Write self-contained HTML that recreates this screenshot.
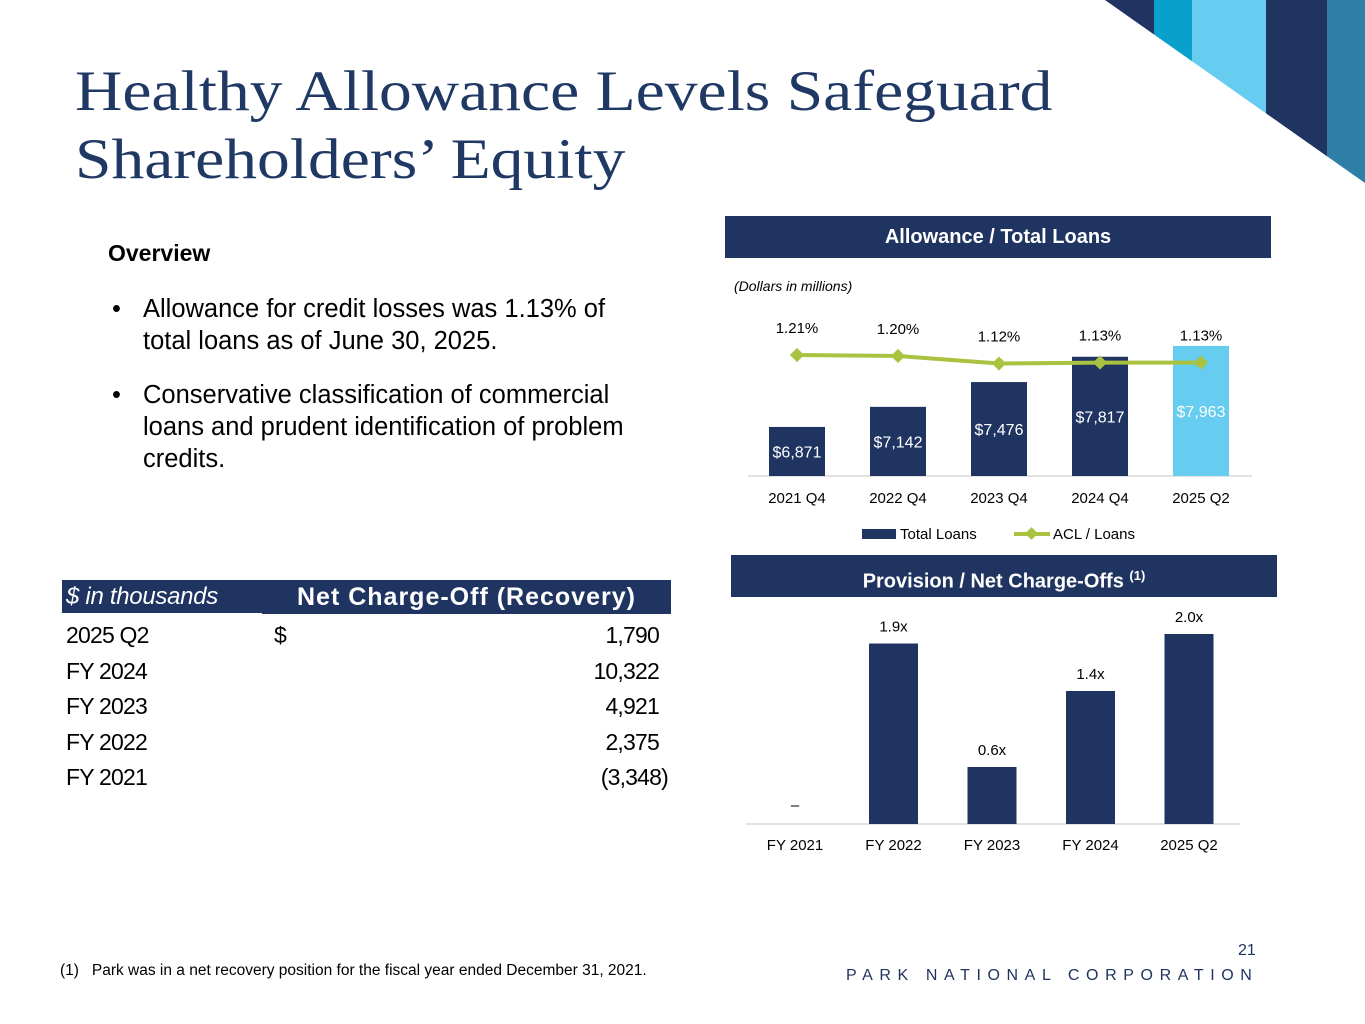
<!DOCTYPE html>
<html><head><meta charset="utf-8"><style>
body{margin:0;width:1365px;height:1024px;position:relative;overflow:hidden;background:#fff;font-family:"Liberation Sans",Arial,sans-serif;}
.abs{position:absolute;}
.title{left:75px;top:58px;font-family:"Liberation Serif",serif;font-size:57px;line-height:68px;color:#1f3864;transform:scaleX(1.15);transform-origin:left top;white-space:nowrap;}
.hdr{background:#1f3461;color:#fff;font-weight:bold;font-size:20px;text-align:center;}
.row{left:66px;width:602px;height:35px;font-size:23px;letter-spacing:-0.8px;color:#000;}
.row span{position:absolute;}
</style></head><body>
<svg class="abs" style="left:0;top:0" width="1365" height="200">
<defs><clipPath id="cp"><polygon points="1105,0 1365,0 1365,183"/></clipPath></defs>
<g clip-path="url(#cp)">
<rect x="1100" y="0" width="54" height="200" fill="#1f3461"/>
<rect x="1154" y="0" width="38" height="200" fill="#0aa0cc"/>
<rect x="1192" y="0" width="74" height="200" fill="#66ccf0"/>
<rect x="1266" y="0" width="61" height="200" fill="#1f3461"/>
<rect x="1327" y="0" width="40" height="200" fill="#2e7fa6"/>
</g></svg>
<div class="abs title">Healthy Allowance Levels Safeguard<br>Shareholders’ Equity</div>
<div class="abs" style="left:108px;top:240px;font-size:23px;font-weight:bold">Overview</div>
<div class="abs" style="left:112px;top:293px;font-size:25.5px;line-height:32px;width:600px"><span style="position:absolute;left:0">•</span><div style="margin-left:31px;width:505px">Allowance for credit losses was 1.13% of total loans as of June 30, 2025.</div></div>
<div class="abs" style="left:112px;top:379px;font-size:25.5px;line-height:32px;width:600px"><span style="position:absolute;left:0">•</span><div style="margin-left:31px;width:500px;white-space:nowrap">Conservative classification of commercial<br>loans and prudent identification of problem<br>credits.</div></div>

<div class="abs" style="left:62px;top:580px;width:609px;height:34px;background:#1f3461">
<span class="abs" style="left:4px;top:3px;color:#fff;font-style:italic;font-size:24px;letter-spacing:-0.3px">$ in thousands</span>
<span class="abs" style="left:235px;top:3px;color:#fff;font-weight:bold;font-size:25px;letter-spacing:1px">Net Charge-Off (Recovery)</span></div>
<div class="abs" style="left:62px;top:613px;width:200px;height:2px;background:#fff"></div>
<div id="tbl"></div>

<div class="abs hdr" style="left:725px;top:216px;width:546px;height:42px;line-height:42px">Allowance / Total Loans</div>
<div class="abs hdr" style="left:731px;top:555px;width:546px;height:42px;line-height:42px">Provision / Net Charge-Offs <sup style="font-size:13px">(1)</sup></div>
<div class="abs" style="left:734px;top:278px;font-size:14px;font-style:italic">(Dollars in millions)</div>

<svg id="c1" class="abs" style="left:0;top:0" width="1365" height="1024"></svg>

<div class="abs" style="left:60px;top:962px;font-size:15.5px">(1)&nbsp;&nbsp;&nbsp;Park was in a net recovery position for the fiscal year ended December 31, 2021.</div>
<div class="abs" style="left:1238px;top:942px;font-size:16px;color:#1f3461">21</div>
<div class="abs" style="left:846px;top:967px;font-size:16px;letter-spacing:6.6px;color:#1f3461;white-space:nowrap">PARK NATIONAL CORPORATION</div>

<script>
const loanCats=["2021 Q4","2022 Q4","2023 Q4","2024 Q4","2025 Q2"];
const loanVals=[6871,7142,7476,7817,7963];
const aclVals=[1.21,1.20,1.12,1.13,1.13];
const provCats=["FY 2021","FY 2022","FY 2023","FY 2024","2025 Q2"];
const provVals=[null,1.9,0.6,1.4,2.0];
const tblCats=["2025 Q2","FY 2024","FY 2023","FY 2022","FY 2021"];
const tblVals=["1,790","10,322","4,921","2,375","(3,348)"];

const NS="http://www.w3.org/2000/svg";
const svg=document.getElementById('c1');
function mk(t,a,txt){const e=document.createElementNS(NS,t);for(const k in a)e.setAttribute(k,a[k]);if(txt!=null)e.textContent=txt;svg.appendChild(e);return e;}
// chart 1
const x1=i=>797+i*101, base1=476, y1=v=>base1-(v-6210)*0.0742, yl=v=>355+(1.21-v)*95;
let e=mk('line',{x1:748,x2:1252,y1:base1,y2:base1,stroke:'#d9d9d9','stroke-width':1.5});

loanVals.forEach((v,i)=>{
 const last=i==loanVals.length-1;
 let r=mk('rect',{x:x1(i)-28,y:y1(v),width:56,height:base1-y1(v),fill:last?'#66ccf0':'#1f3461'});
 
 let t=mk('text',{x:x1(i),y:(y1(v)+base1)/2+6,'text-anchor':'middle','font-size':16,fill:'#fff'},'$'+v.toLocaleString('en-US'));
 
 let c=mk('text',{x:x1(i),y:503,'text-anchor':'middle','font-size':15},loanCats[i]);
 
});
let pts=aclVals.map((v,i)=>x1(i)+','+yl(v)).join(' ');
e=mk('polyline',{points:pts,fill:'none',stroke:'#a9c23f','stroke-width':4});

aclVals.forEach((v,i)=>{
 let d=mk('rect',{x:x1(i)-5,y:yl(v)-5,width:10,height:10,fill:'#a9c23f',transform:`rotate(45 ${x1(i)} ${yl(v)})`});
 
 let t=mk('text',{x:x1(i),y:yl(v)-22,'text-anchor':'middle','font-size':15},v.toFixed(2)+'%');
 
});
e=mk('rect',{x:862,y:529,width:34,height:10,fill:'#1f3461'});
mk('text',{x:900,y:539,'font-size':15},'Total Loans');
e=mk('line',{x1:1014,x2:1050,y1:534,y2:534,stroke:'#a9c23f','stroke-width':4});
mk('rect',{x:1027,y:529,width:9,height:9,fill:'#a9c23f',transform:'rotate(45 1031.5 533.5)'});
mk('text',{x:1053,y:539,'font-size':15},'ACL / Loans');
// chart 2
const x2=i=>795+i*98.5, base2=824, y2=v=>base2-v*95;
e=mk('line',{x1:746,x2:1240,y1:base2,y2:base2,stroke:'#d9d9d9','stroke-width':1.5});

provVals.forEach((v,i)=>{
 let c=mk('text',{x:x2(i),y:850,'text-anchor':'middle','font-size':15},provCats[i]);
 
 if(v==null){let t=mk('text',{x:x2(i),y:810,'text-anchor':'middle','font-size':15},'–');return;}
 let r=mk('rect',{x:x2(i)-24.5,y:y2(v),width:49,height:base2-y2(v),fill:'#1f3461'});
 
 let t=mk('text',{x:x2(i),y:y2(v)-12,'text-anchor':'middle','font-size':15},v.toFixed(1)+'x');
 
});
// table
const tb=document.getElementById('tbl');
tblCats.forEach((c,i)=>{
 const d=document.createElement('div');d.className='abs row';d.style.top=(622+i*35.5)+'px';
 
 
 d.innerHTML=`<span style="left:0">${c}</span>${i==0?'<span style="left:208px">$</span>':''}<span style="right:${tblVals[i].startsWith('(')?0:9}px">${tblVals[i]}</span>`;
 tb.appendChild(d);
});
</script>
</body></html>
